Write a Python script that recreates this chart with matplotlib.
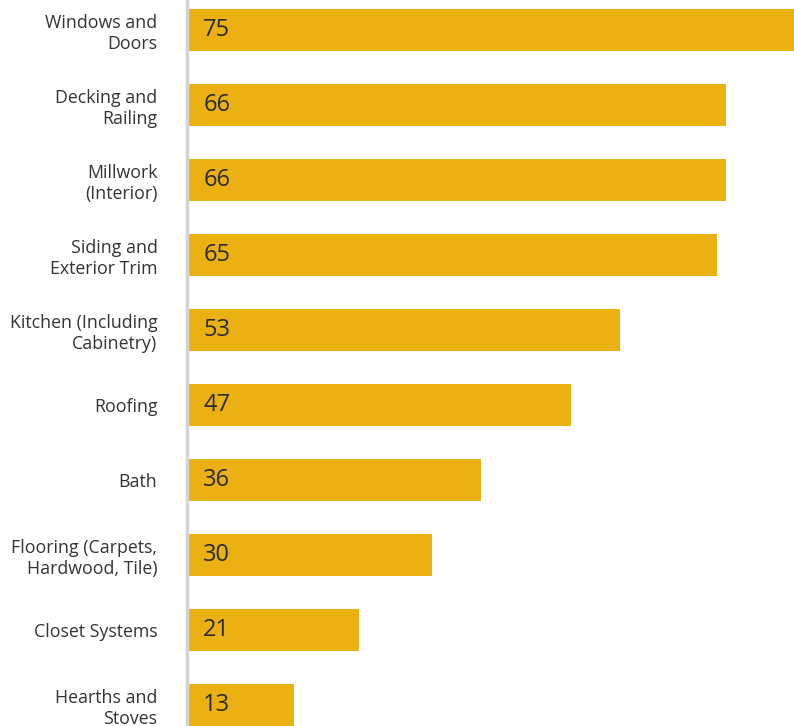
import matplotlib.pyplot as plt

categories = ['Windows and\nDoors', 'Decking and\nRailing', 'Millwork\n(Interior)',
              'Siding and\nExterior Trim', 'Kitchen (Including\nCabinetry)', 'Roofing',
              'Bath', 'Flooring (Carpets,\nHardwood, Tile)', 'Closet Systems',
              'Hearths and\nStoves']
values = [75, 66, 66, 65, 53, 47, 36, 30, 21, 13]

plt.rcParams['font.family'] = ['Open Sans', 'DejaVu Sans']

fig = plt.figure(figsize=(7.94, 7.26), dpi=100)
ax = fig.add_axes([188 / 794, 0, 606 / 794, 1])

pos = list(range(len(values)))
ax.barh(pos, values, height=0.56, color='#EBB112', zorder=2)

for p, v in zip(pos, values):
    ax.annotate(str(v), (0, p), xytext=(11, 0), textcoords='offset points',
                ha='left', va='center', fontsize=17, color='#2a2a2a', zorder=3)

ax.set_xlim(0, 74.4)
ax.set_ylim(9.28, -0.4)

ax.set_yticks(pos, categories)
ax.tick_params(axis='y', length=0, pad=21, labelsize=12.8, labelcolor='#333333')
for lab in ax.get_yticklabels():
    lab.set_linespacing(1.0)
ax.set_xticks([])

for side in ['top', 'right', 'bottom']:
    ax.spines[side].set_visible(False)
ax.spines['left'].set_color('#d4d4d4')
ax.spines['left'].set_linewidth(2.5)
ax.spines['left'].set_position(('outward', 1))

fig.savefig('out.png', dpi=100)
